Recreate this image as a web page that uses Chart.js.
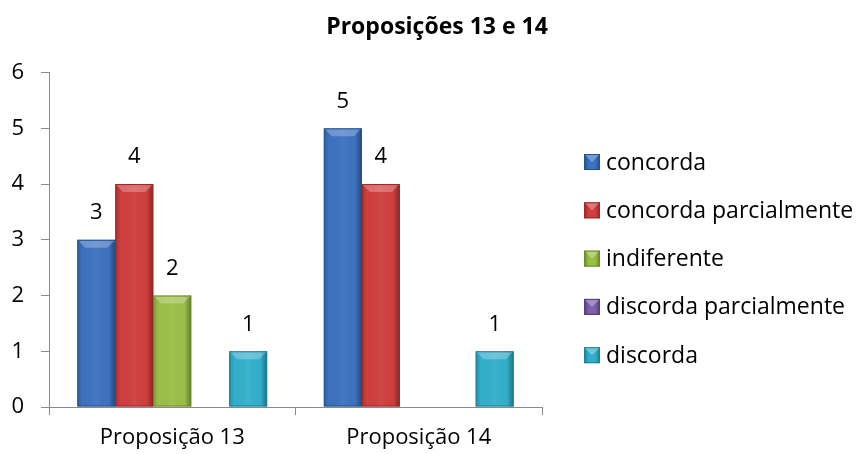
<!DOCTYPE html>
<html>
<head>
<meta charset="utf-8">
<script src="https://cdn.jsdelivr.net/npm/chart.js@4/dist/chart.umd.min.js"></script>
<style>
  html, body { margin: 0; padding: 0; background: #fff; }
  #wrap { width: 856px; height: 454px; }
</style>
</head>
<body>
<div id="wrap"><canvas id="chart"></canvas></div>
<script>
// Respostas por proposição
const categories = ["Proposição 13", "Proposição 14"];
const seriesNames = ["concorda", "concorda parcialmente", "indiferente", "discorda parcialmente", "discorda"];
const concorda = [3, 5];
const concordaParcialmente = [4, 4];
const indiferente = [2, 0];
const discordaParcialmente = [0, 0];
const discorda = [1, 1];
const yTicks = [0, 1, 2, 3, 4, 5, 6];

const colors = ["#3c72bf", "#cf3f3e", "#9abf47", "#7d60a8", "#33afcb"];
const edges = ["#23508f", "#9a2626", "#6b8a29", "#553d7d", "#1d8099"];
const values = [concorda, concordaParcialmente, indiferente, discordaParcialmente, discorda];

const font = "'Open Sans', 'Noto Sans', sans-serif";
const axisColor = "#8a8a8a";

// bevel look: darker side strips and a lighter top facet on each bar
const bevel = {
  id: "bevel",
  afterDatasetsDraw(chart) {
    const ctx = chart.ctx;
    chart.data.datasets.forEach((ds, i) => {
      chart.getDatasetMeta(i).data.forEach((bar, j) => {
        if (!ds.data[j]) return;
        const l = bar.x - bar.width / 2, r = bar.x + bar.width / 2;
        const t = bar.y, b = bar.base;
        const e = 8;
        ctx.save();
        let g = ctx.createLinearGradient(l, 0, r, 0);
        g.addColorStop(0, "rgba(0,0,0,0.18)");
        g.addColorStop(0.14, "rgba(0,0,0,0.0)");
        g.addColorStop(0.5, "rgba(255,255,255,0.05)");
        g.addColorStop(0.82, "rgba(0,0,0,0.0)");
        g.addColorStop(1, "rgba(0,0,0,0.36)");
        ctx.fillStyle = g;
        ctx.fillRect(l, t, r - l, b - t);
        // top facet
        ctx.beginPath();
        ctx.moveTo(l, t);
        ctx.lineTo(r, t);
        ctx.lineTo(r - e, t + e);
        ctx.lineTo(l + e, t + e);
        ctx.closePath();
        ctx.fillStyle = "rgba(255,255,255,0.26)";
        ctx.fill();
        ctx.strokeStyle = edges[i];
        ctx.lineWidth = 1;
        ctx.strokeRect(l + 0.5, t + 0.5, r - l - 1, b - t - 1);
        ctx.restore();
      });
    });
  }
};

// value labels above non-zero bars
const valueLabels = {
  id: "valueLabels",
  afterDatasetsDraw(chart) {
    const ctx = chart.ctx;
    ctx.save();
    ctx.font = "22px " + font;
    ctx.fillStyle = "#000";
    ctx.textAlign = "center";
    ctx.textBaseline = "middle";
    chart.data.datasets.forEach((ds, i) => {
      chart.getDatasetMeta(i).data.forEach((bar, j) => {
        if (!ds.data[j]) return;
        ctx.fillText(String(ds.data[j]), bar.x, bar.y - 27);
      });
    });
    ctx.restore();
  }
};

// legend list on the right, one row per series
const sideLegend = {
  id: "sideLegend",
  afterDraw(chart) {
    const ctx = chart.ctx;
    const x = 584, top = 162, step = 48.3, box = 16;
    ctx.save();
    ctx.font = "23px " + font;
    ctx.textBaseline = "middle";
    chart.data.datasets.forEach((ds, i) => {
      const y = top + i * step;
      const g = ctx.createLinearGradient(x, 0, x + box, 0);
      g.addColorStop(0, edges[i]);
      g.addColorStop(0.3, colors[i]);
      g.addColorStop(0.7, colors[i]);
      g.addColorStop(1, edges[i]);
      ctx.fillStyle = g;
      ctx.fillRect(x, y - box / 2, box, box);
      ctx.fillStyle = "rgba(255,255,255,0.3)";
      ctx.beginPath();
      ctx.moveTo(x, y - box / 2);
      ctx.lineTo(x + box, y - box / 2);
      ctx.lineTo(x + box / 2, y);
      ctx.closePath();
      ctx.fill();
      ctx.strokeStyle = edges[i];
      ctx.lineWidth = 1;
      ctx.strokeRect(x + 0.5, y - box / 2 + 0.5, box - 1, box - 1);
      ctx.fillStyle = "#000";
      ctx.fillText(ds.label, x + box + 6, y + 1);
    });
    ctx.restore();
  }
};

new Chart(document.getElementById("chart"), {
  type: "bar",
  data: {
    labels: categories,
    datasets: seriesNames.map((name, i) => ({
      label: name,
      data: values[i],
      backgroundColor: colors[i],
      borderWidth: 0,
      categoryPercentage: 0.77,
      barPercentage: 1.0
    }))
  },
  options: {
    responsive: true,
    maintainAspectRatio: false,
    animation: false,
    // negative right padding centres the title a little right of the canvas middle
    layout: { padding: { left: 0, right: -18, top: 0, bottom: 0 } },
    plugins: {
      title: {
        display: true,
        text: "Proposições 13 e 14",
        color: "#000",
        font: { family: font, size: 23, weight: "bold" },
        padding: { top: 14, bottom: 31 }
      },
      legend: { display: false },
      tooltip: { enabled: false }
    },
    scales: {
      x: {
        grid: { display: true, drawOnChartArea: false, offset: true, tickLength: 8, color: axisColor },
        border: { color: axisColor },
        ticks: { color: "#000", font: { family: font, size: 22 }, padding: 10 },
        afterFit(s) { s.height = 47; }
      },
      y: {
        min: 0,
        max: 6,
        grid: { drawOnChartArea: false, tickLength: 8, color: axisColor },
        border: { color: axisColor },
        ticks: {
          color: "#000",
          font: { family: font, size: 22 },
          padding: 17,
          stepSize: 1,
          callback: (v) => yTicks.includes(v) ? String(v) : ""
        },
        afterFit(s) { s.width = 49; }
      },
      // empty strip that keeps the plot clear of the legend
      gap: {
        type: "linear",
        position: "right",
        display: true,
        grid: { display: false },
        border: { display: false },
        ticks: { display: false },
        afterFit(s) { s.width = 332; }
      }
    }
  },
  plugins: [bevel, valueLabels, sideLegend]
});
</script>
</body>
</html>
